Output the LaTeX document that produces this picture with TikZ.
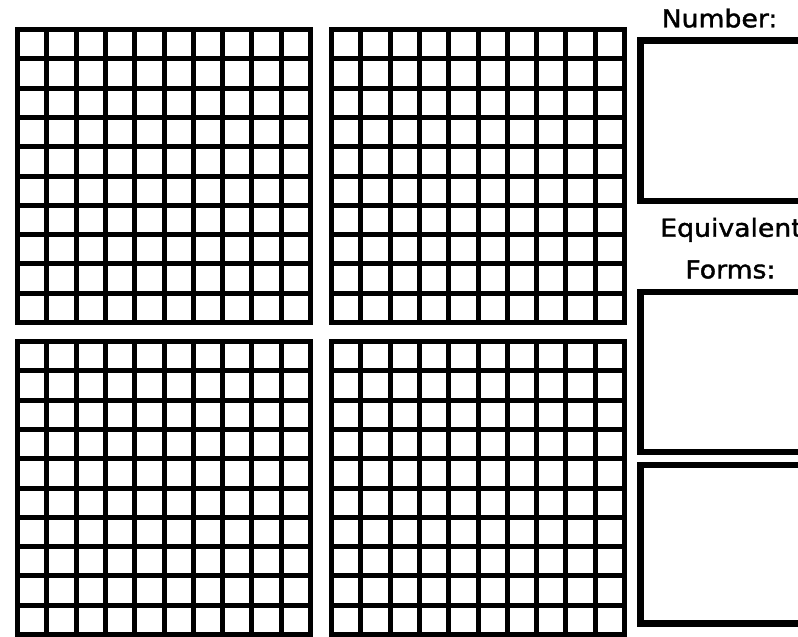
\documentclass[tikz,border=0pt]{standalone}
\usepackage{fontspec}
\newfontfamily\headfont[FakeStretch=1.08,FakeBold=1.6]{DejaVu Sans}

\begin{document}
\begin{tikzpicture}[x=1pt, y=-1pt,
  gridline/.style={line width=5pt, line cap=rect},
  answerbox/.style={draw, line width=6.5pt},
  heading/.style={font=\headfont\fontsize{24.7}{30}\selectfont, anchor=base, inner sep=0pt}]

\useasboundingbox (0,0) rectangle (798,637);
\clip (0,0) rectangle (798,637);

% Hundred grids
\foreach \gx/\gy in {17.5/29.5, 331.5/29.5, 17.5/341.5, 331.5/341.5} {
  \foreach \i in {0,...,10} {
    \draw[gridline] ({\gx+\i*29.3}, \gy) -- ({\gx+\i*29.3}, {\gy+293});
    \draw[gridline] (\gx, {\gy+\i*29.3}) -- ({\gx+293}, {\gy+\i*29.3});
  }
}

% Answer boxes
\draw[answerbox] (640.25,40.25)  rectangle (830,200.75);
\draw[answerbox] (640.25,292)    rectangle (830,451.75);
\draw[answerbox] (640.25,465)    rectangle (830,623.5);

% Headings
\node[heading] (number) at (719.5,27.3)  {Number:};
\node[heading] (equiv)  at (731,236.7)   {Equivalent};
\node[heading] (forms)  at (730.4,278.3) {Forms:};

\end{tikzpicture}
\end{document}
